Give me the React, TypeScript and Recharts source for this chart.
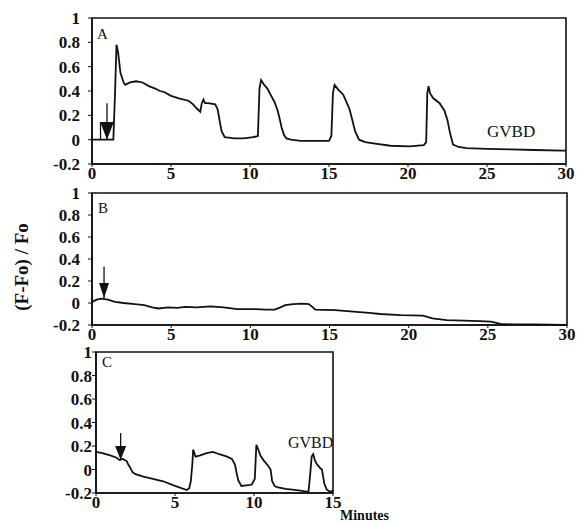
import React from "react";
import {
  LineChart,
  Line,
  XAxis,
  YAxis,
  ReferenceArea,
  ReferenceLine,
  ReferenceDot,
} from "recharts";

const serif = '"Liberation Serif", "Times New Roman", serif';
const ink = "#111";

// (minutes, (F-Fo)/Fo)
const traceA: [number, number][] = [
  [0, 0], [0.5, 0], [1.0, 0], [1.35, 0], [1.45, 0.35], [1.55, 0.78], [1.65, 0.72],
  [1.8, 0.55], [2.0, 0.47], [2.1, 0.45], [2.4, 0.47], [2.8, 0.48], [3.2, 0.47],
  [3.6, 0.44], [4.0, 0.42], [4.3, 0.4], [4.6, 0.39], [5.0, 0.36], [5.5, 0.34],
  [6.1, 0.32], [6.4, 0.29], [6.6, 0.26], [6.85, 0.23], [6.95, 0.3], [7.05, 0.33],
  [7.15, 0.3], [7.35, 0.3], [7.8, 0.29], [7.95, 0.25], [8.1, 0.14], [8.2, 0.07],
  [8.4, 0.02], [9.0, 0.01], [9.6, 0.01], [10.2, 0.02], [10.5, 0.03], [10.6, 0.42],
  [10.7, 0.49], [10.9, 0.45], [11.1, 0.42], [11.3, 0.37], [11.55, 0.31], [11.75, 0.24],
  [11.9, 0.16], [12.0, 0.1], [12.15, 0.04], [12.3, 0.01], [12.6, 0], [13.2, -0.01],
  [14.2, -0.01], [15.0, -0.01], [15.15, 0.03], [15.25, 0.38], [15.35, 0.45], [15.6, 0.41],
  [15.9, 0.37], [16.1, 0.31], [16.3, 0.25], [16.5, 0.15], [16.65, 0.07], [16.9, 0],
  [17.3, -0.02], [17.8, -0.03], [18.9, -0.05], [20.1, -0.055], [21.0, -0.045],
  [21.15, -0.02], [21.22, 0.38], [21.3, 0.44], [21.4, 0.38], [21.6, 0.34], [22.0, 0.3],
  [22.3, 0.24], [22.5, 0.16], [22.65, 0.06], [22.85, -0.04], [23.2, -0.06], [23.7, -0.07],
  [25, -0.075], [26.5, -0.08], [28, -0.085], [29.8, -0.09], [30, -0.09],
];

const traceB: [number, number][] = [
  [0, 0.01], [0.3, 0.03], [0.6, 0.04], [1.0, 0.03], [1.45, 0.01], [2.0, 0], [2.7, -0.01],
  [3.3, -0.02], [3.8, -0.04], [4.2, -0.05], [4.8, -0.04], [5.4, -0.045], [5.9, -0.035],
  [6.6, -0.04], [7.5, -0.03], [8.3, -0.04], [9.2, -0.055], [10.3, -0.055], [11.0, -0.06],
  [11.55, -0.06], [11.9, -0.04], [12.2, -0.02], [12.7, -0.01], [13.25, -0.005],
  [13.7, -0.01], [13.95, -0.04], [14.1, -0.06], [15.35, -0.065], [16.7, -0.08],
  [17.5, -0.09], [18.2, -0.1], [19.5, -0.11], [20.9, -0.115], [21.5, -0.14], [22.4, -0.155],
  [23.5, -0.16], [24.5, -0.165], [25.2, -0.17], [25.8, -0.19], [26.6, -0.195], [28, -0.195],
  [29.8, -0.2], [30, -0.2],
];

const traceC: [number, number][] = [
  [0, 0.15], [0.4, 0.14], [0.9, 0.12], [1.3, 0.1], [1.5, 0.08], [1.7, 0.09], [1.95, 0.07],
  [2.05, 0.04], [2.15, 0.02], [2.3, -0.02], [2.5, -0.04], [3.0, -0.06], [3.6, -0.08],
  [4.25, -0.1], [5.0, -0.14], [5.75, -0.175], [5.9, -0.16], [6.0, -0.1], [6.1, 0.05],
  [6.15, 0.17], [6.3, 0.11], [6.6, 0.12], [7.0, 0.14], [7.4, 0.15], [7.8, 0.13], [8.3, 0.11],
  [8.6, 0.09], [8.8, 0.04], [8.9, -0.03], [9.0, -0.09], [9.2, -0.14], [9.85, -0.13],
  [10.05, -0.08], [10.15, 0.21], [10.3, 0.16], [10.4, 0.12], [10.6, 0.08], [10.9, 0.03],
  [11.05, 0], [11.15, -0.1], [11.3, -0.14], [11.45, -0.15], [12.0, -0.165], [12.7, -0.175],
  [13.45, -0.19], [13.55, -0.05], [13.65, 0.11], [13.75, 0.13], [13.85, 0.08], [13.95, 0.05],
  [14.2, 0.01], [14.3, 0], [14.45, -0.12], [14.6, -0.17], [14.8, -0.19], [15, -0.18],
];

// arrow = time of addition, stem top, tip
const arrowA = { t: 0.95, top: 0.3, tip: 0 };
const arrowB = { t: 0.76, top: 0.33, tip: 0.045 };
const arrowC = { t: 1.56, top: 0.31, tip: 0.08 };

const yTicks = [-0.2, 0, 0.2, 0.4, 0.6, 0.8, 1];
const xTicksLong = [0, 5, 10, 15, 20, 25, 30];
const xTicksShort = [0, 5, 10, 15];

const rows = (pairs: [number, number][]) => pairs.map(([t, v]) => ({ t, v }));

const tickFont = { fill: ink, fontSize: 17, fontFamily: serif, fontWeight: "bold" as const };

interface PanelProps {
  trace: [number, number][];
  xMax: number;
  xTicks: number[];
  top: number;
  height: number;
  margin: { top: number; right: number; bottom: number; left: number };
  yTickMargin: number;
  arrow: { t: number; top: number; tip: number };
  headW: number;
  headH: number;
  boxed?: boolean;
}

function Panel({ trace, xMax, xTicks, top, height, margin, yTickMargin, arrow, headW, headH, boxed }: PanelProps) {
  const head = (p: any) => {
    const { cx, cy } = p;
    const hw = headW / 2;
    return (
      <g>
        {boxed && (
          <path
            d={`M${cx - hw},${cy} L${cx - hw},${cy - headH} L${cx + hw},${cy - headH}`}
            fill="none"
            stroke={ink}
            strokeWidth={1.3}
          />
        )}
        <path d={`M${cx - hw},${cy - headH} L${cx + hw},${cy - headH} L${cx},${cy} Z`} fill={ink} />
      </g>
    );
  };
  return (
    <div style={{ position: "absolute", left: 0, top }}>
      <LineChart
        width={577}
        height={height}
        data={rows(trace)}
        margin={margin}
        style={{ fontFamily: serif }}
      >
        <ReferenceArea
          x1={0}
          x2={xMax}
          y1={-0.2}
          y2={1}
          fill="none"
          stroke={ink}
          strokeWidth={1.6}
          ifOverflow="visible"
        />
        <XAxis
          dataKey="t"
          type="number"
          domain={[0, xMax]}
          ticks={xTicks}
          interval={0}
          height={21}
          axisLine={{ stroke: ink, strokeWidth: 1.6 }}
          tickLine={{ stroke: ink }}
          tickSize={3}
          tickMargin={0}
          tick={tickFont}
        />
        <YAxis
          type="number"
          domain={[-0.2, 1]}
          ticks={yTicks}
          interval={0}
          width={50}
          axisLine={{ stroke: ink, strokeWidth: 1.6 }}
          tickLine={{ stroke: ink }}
          tickSize={4}
          tickMargin={yTickMargin}
          tick={tickFont}
          tickFormatter={(v: number) => String(v)}
        />
        <Line
          dataKey="v"
          type="linear"
          stroke={ink}
          strokeWidth={1.8}
          dot={false}
          isAnimationActive={false}
        />
        <ReferenceLine
          segment={[
            { x: arrow.t, y: arrow.top },
            { x: arrow.t, y: arrow.tip },
          ]}
          stroke={ink}
          strokeWidth={1.3}
          ifOverflow="visible"
        />
        <ReferenceDot x={arrow.t} y={arrow.tip} r={0} shape={head} ifOverflow="visible" />
      </LineChart>
    </div>
  );
}

export default function App() {
  return (
    <div
      style={{
        position: "absolute",
        left: 0,
        top: 0,
        width: 577,
        height: 526,
        background: "#fff",
        fontFamily: serif,
      }}
    >
      <Panel
        trace={traceA}
        xMax={30}
        xTicks={xTicksLong}
        top={0}
        height={185}
        margin={{ top: 18, right: 11, bottom: 0, left: 42 }}
        yTickMargin={8}
        arrow={arrowA}
        headW={13}
        headH={17}
        boxed
      />
      <Panel
        trace={traceB}
        xMax={30}
        xTicks={xTicksLong}
        top={175}
        height={175}
        margin={{ top: 18, right: 10, bottom: 4, left: 42 }}
        yTickMargin={8}
        arrow={arrowB}
        headW={10}
        headH={15}
      />
      <Panel
        trace={traceC}
        xMax={15}
        xTicks={xTicksShort}
        top={334}
        height={180}
        margin={{ top: 18, right: 244, bottom: 0, left: 46 }}
        yTickMargin={0}
        arrow={arrowC}
        headW={11}
        headH={14}
      />
      <svg
        width={577}
        height={526}
        style={{ position: "absolute", left: 0, top: 0, pointerEvents: "none" }}
      >
        <g fontFamily={serif} fill={ink}>
          <text transform="translate(28,267) rotate(-90)" textAnchor="middle" fontSize={19} fontWeight="bold">
            (F-Fo) / Fo
          </text>
          <text x={97} y={39} fontSize={15}>A</text>
          <text x={98} y={213} fontSize={15}>B</text>
          <text x={102} y={367} fontSize={15}>C</text>
          <text x={487} y={137} fontSize={17}>GVBD</text>
          <text x={288} y={448} fontSize={16}>GVBD</text>
          <text x={340} y={520} fontSize={14} fontWeight="bold">Minutes</text>
        </g>
      </svg>
    </div>
  );
}
